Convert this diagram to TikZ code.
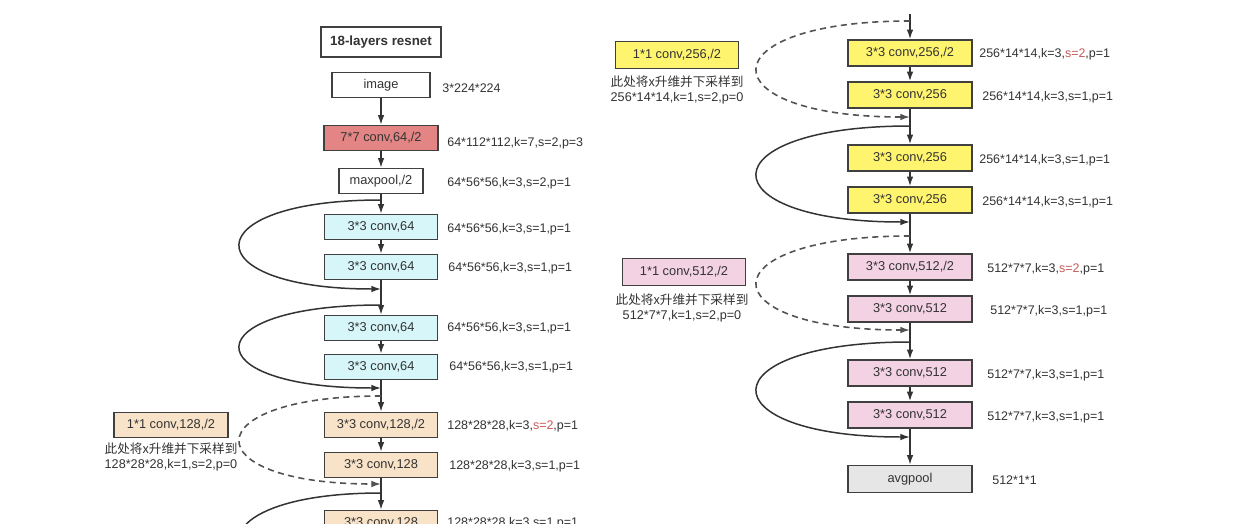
\documentclass[tikz,border=0pt]{standalone}
\usepackage{fontspec}
\setmainfont{Liberation Sans}
\newfontfamily\cjk{Noto Sans CJK SC}
\usetikzlibrary{arrows.meta}
\definecolor{ink}{HTML}{333333}
\definecolor{boxline}{HTML}{404040}
\definecolor{sred}{HTML}{C85A5A}
\definecolor{fred}{HTML}{E48585}
\definecolor{fcyan}{HTML}{D6F6FA}
\definecolor{ftan}{HTML}{F8E3C8}
\definecolor{fyel}{HTML}{FFF46E}
\definecolor{fpink}{HTML}{F2D2E3}
\definecolor{fgrey}{HTML}{E6E6E6}
\tikzset{
  box/.style={draw=boxline, line width=0.9pt, minimum height=0.5cm, inner sep=1pt,
    font=\fontsize{7.3}{8}\selectfont, text=ink},
  lbox/.style={box, minimum width=2.26cm},
  rbox/.style={box, minimum width=2.48cm, minimum height=0.52cm},
  lab/.style={anchor=west, inner sep=0pt, font=\fontsize{7.1}{8}\selectfont, text=ink},
  note/.style={inner sep=0pt, align=center, font=\fontsize{7.2}{8.6}\selectfont, text=ink},
  flow/.style={-{Latex[length=5.5pt,width=3.8pt]}, line width=0.85pt, draw=ink},
  skiparc/.style={flow},
  dskip/.style={flow, draw=ink!85, line width=0.9pt, dash pattern=on 3.5pt off 2.5pt}
}
\begin{document}
\begin{tikzpicture}[x=0.02cm,y=-0.02cm]
\useasboundingbox (0,0) rectangle (1234,524);
\clip (0,0) rectangle (1234,524);
\fill[white] (0,0) rectangle (1234,524);

% ---------------- left column ----------------
\node[box, minimum width=2.4cm, minimum height=0.6cm, font=\fontsize{7.6}{9}\selectfont\bfseries] (title) at (381,42) {18-layers resnet};
\node[box, minimum width=1.96cm] (image) at (381,85) {image};
\node[lbox, minimum width=2.28cm, fill=fred] (conv7) at (381,138) {7*7 conv,64,/2};
\node[box, minimum width=1.68cm] (maxpool) at (381,181) {maxpool,/2};
\node[lbox, fill=fcyan] (c64a) at (381,227) {3*3 conv,64};
\node[lbox, fill=fcyan] (c64b) at (381,267) {3*3 conv,64};
\node[lbox, fill=fcyan] (c64c) at (381,328) {3*3 conv,64};
\node[lbox, fill=fcyan] (c64d) at (381,367) {3*3 conv,64};
\node[lbox, fill=ftan] (c128a) at (381,425) {3*3 conv,128,/2};
\node[lbox, fill=ftan] (c128b) at (381,465) {3*3 conv,128};
\node[lbox, fill=ftan] (c128c) at (381,523) {3*3 conv,128};
\node[lbox, minimum width=2.28cm, fill=ftan] (p128) at (171,425) {1*1 conv,128,/2};
\node[note] (n128) at (171,457) {{\cjk 此处将x升维并下采样到}\\128*28*28,k=1,s=2,p=0};

\node[lab] (l0) at (442,88) {3*224*224};
\node[lab] (l1) at (447,143) {64*112*112,k=7,s=2,p=3};
\node[lab] (l2) at (447,183) {64*56*56,k=3,s=2,p=1};
\node[lab] (l3) at (447,229) {64*56*56,k=3,s=1,p=1};
\node[lab] (l4) at (448,268) {64*56*56,k=3,s=1,p=1};
\node[lab] (l5) at (447,328) {64*56*56,k=3,s=1,p=1};
\node[lab] (l6) at (449,367) {64*56*56,k=3,s=1,p=1};
\node[lab] (l7) at (447,426) {128*28*28,k=3,\textcolor{sred}{s=2},p=1};
\node[lab] (l8) at (449,466) {128*28*28,k=3,s=1,p=1};
\node[lab] (l9) at (447,523) {128*28*28,k=3,s=1,p=1};

\draw[flow] (image) -- (conv7);
\draw[flow] (conv7) -- (maxpool);
\draw[flow] (maxpool) -- (c64a);
\draw[flow] (c64a) -- (c64b);
\draw[flow] (c64b) -- (c64c);
\draw[flow] (c64c) -- (c64d);
\draw[flow] (c64d) -- (c128a);
\draw[flow] (c128a) -- (c128b);
\draw[flow] (c128b) -- (c128c);

\coordinate (j1) at (381,200);
\coordinate (j2) at (381,289);
\coordinate (j3) at (381,305);
\coordinate (j4) at (381,388);
\coordinate (j5) at (381,396);
\coordinate (j6) at (381,484);
\coordinate (j7) at (381,493);
\coordinate (j8) at (381,585);
\draw[skiparc] (j1) .. controls +(-188,0) and +(-188,0) .. (j2);
\draw[skiparc] (j3) .. controls +(-188,0) and +(-188,0) .. (j4);
\draw[dskip] (j5) .. controls +(-188,0) and +(-188,0) .. (j6);
\draw[skiparc] (j7) .. controls +(-188,0) and +(-188,0) .. (j8);

% ---------------- right column ----------------
\coordinate (rtop) at (910,14);
\node[rbox, fill=fyel] (c256a) at (910,53) {3*3 conv,256,/2};
\node[rbox, fill=fyel] (c256b) at (910,95) {3*3 conv,256};
\node[rbox, fill=fyel] (c256c) at (910,158) {3*3 conv,256};
\node[rbox, fill=fyel] (c256d) at (910,200) {3*3 conv,256};
\node[rbox, fill=fpink] (c512a) at (910,267) {3*3 conv,512,/2};
\node[rbox, fill=fpink] (c512b) at (910,309) {3*3 conv,512};
\node[rbox, fill=fpink] (c512c) at (910,373) {3*3 conv,512};
\node[rbox, fill=fpink] (c512d) at (910,415) {3*3 conv,512};
\node[rbox, minimum height=0.54cm, fill=fgrey] (avg) at (910,479) {avgpool};
\node[rbox, minimum width=2.46cm, minimum height=0.54cm, fill=fyel] (p256) at (677,55) {1*1 conv,256,/2};
\node[note] (n256) at (677,90) {{\cjk 此处将x升维并下采样到}\\256*14*14,k=1,s=2,p=0};
\node[rbox, minimum width=2.46cm, minimum height=0.54cm, fill=fpink] (p512) at (684,272) {1*1 conv,512,/2};
\node[note] (n512) at (682,308) {{\cjk 此处将x升维并下采样到}\\512*7*7,k=1,s=2,p=0};

\node[lab] (r1) at (979,54) {256*14*14,k=3,\textcolor{sred}{s=2},p=1};
\node[lab] (r2) at (982,97) {256*14*14,k=3,s=1,p=1};
\node[lab] (r3) at (979,160) {256*14*14,k=3,s=1,p=1};
\node[lab] (r4) at (982,202) {256*14*14,k=3,s=1,p=1};
\node[lab] (r5) at (987,269) {512*7*7,k=3,\textcolor{sred}{s=2},p=1};
\node[lab] (r6) at (990,311) {512*7*7,k=3,s=1,p=1};
\node[lab] (r7) at (987,375) {512*7*7,k=3,s=1,p=1};
\node[lab] (r8) at (987,417) {512*7*7,k=3,s=1,p=1};
\node[lab] (r9) at (992,480) {512*1*1};

\draw[flow] (rtop) -- (c256a);
\draw[flow] (c256a) -- (c256b);
\draw[flow] (c256b) -- (c256c);
\draw[flow] (c256c) -- (c256d);
\draw[flow] (c256d) -- (c512a);
\draw[flow] (c512a) -- (c512b);
\draw[flow] (c512b) -- (c512c);
\draw[flow] (c512c) -- (c512d);
\draw[flow] (c512d) -- (avg);

\coordinate (k0) at (910,21);
\coordinate (k1) at (910,117);
\coordinate (k2) at (910,126);
\coordinate (k3) at (910,222);
\coordinate (k4) at (910,236);
\coordinate (k5) at (910,330);
\coordinate (k6) at (910,342);
\coordinate (k7) at (910,437);
\draw[dskip] (k0) .. controls +(-204,0) and +(-204,0) .. (k1);
\draw[skiparc] (k2) .. controls +(-204,0) and +(-204,0) .. (k3);
\draw[dskip] (k4) .. controls +(-204,0) and +(-204,0) .. (k5);
\draw[skiparc] (k6) .. controls +(-204,0) and +(-204,0) .. (k7);
\end{tikzpicture}
\end{document}
